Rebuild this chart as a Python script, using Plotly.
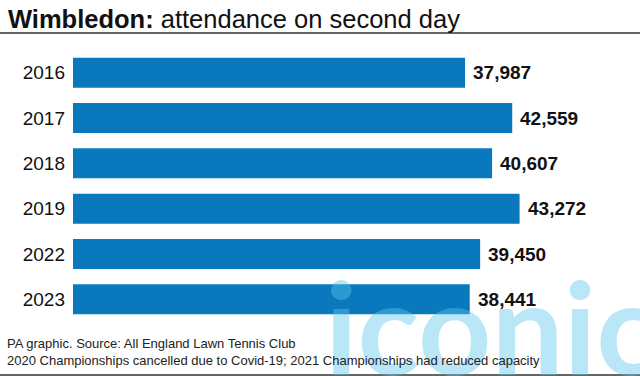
import plotly.graph_objects as go

years = ["2016", "2017", "2018", "2019", "2022", "2023"]
attendance = [37987, 42559, 40607, 43272, 39450, 38441]
labels = [f"{v:,}" for v in attendance]

BAR = "#0a78bd"
FONT = "Liberation Sans, Arial, sans-serif"

W, H = 640, 376
ML, MR, MT, MB = 73, 0, 50, 54
PW, PH = W - ML - MR, H - MT - MB

def px(xp):
    return (xp - ML) / PW

def py(yp):
    return (H - MB - yp) / PH

fig = go.Figure()
# watermark (behind)
fig.add_annotation(xref="paper", yref="paper", x=px(660), y=py(404),
                   xanchor="right", yanchor="bottom", showarrow=False,
                   text="<b>iconic</b>", opacity=0.42,
                   font=dict(family="Lato, Arial", size=128, color="#5cc8ee"))
fig.add_trace(go.Bar(
    x=attendance, y=years, orientation="h",
    marker=dict(color=BAR, line=dict(width=0)),
    hoverinfo="skip",
))
for i, (v, t) in enumerate(zip(attendance, labels)):
    fig.add_annotation(x=v, y=i, text=f"<b>{t}</b>", xref="x", yref="y",
                       showarrow=False, xanchor="left", xshift=6,
                       font=dict(family=FONT, size=19, color="#111"))

fig.update_layout(
    width=W, height=H,
    margin=dict(l=ML, r=MR, t=MT, b=MB, autoexpand=False),
    paper_bgcolor="white", plot_bgcolor="white",
    bargap=0.34,
    showlegend=False,
    font=dict(family=FONT, color="#111"),
    xaxis=dict(range=[0, 54940], visible=False, fixedrange=True, automargin=False),
    yaxis=dict(type="category", range=[len(years) - 0.5, -0.5], autorange=False,
               showgrid=False, zeroline=False, fixedrange=True, automargin=False,
               showline=False, ticks="", ticklabelstandoff=7,
               tickfont=dict(family=FONT, size=19, color="#111")),
)

# title
fig.add_annotation(xref="paper", yref="paper", x=px(6), y=py(3),
                   xanchor="left", yanchor="top", showarrow=False,
                   text="<b>Wimbledon:</b> attendance on second day",
                   font=dict(family=FONT, size=25.5, color="#111"))
# rules
fig.add_shape(type="line", xref="paper", yref="paper", x0=px(0), x1=px(640),
              y0=py(33), y1=py(33), line=dict(color="#333", width=1.5))
fig.add_shape(type="line", xref="paper", yref="paper", x0=px(0), x1=px(640),
              y0=py(375), y1=py(375), line=dict(color="#333", width=1.5))
# footer
fig.add_annotation(xref="paper", yref="paper", x=px(5), y=py(334),
                   xanchor="left", yanchor="top", showarrow=False, align="left",
                   text="PA graphic. Source: All England Lawn Tennis Club<br>2020 Championships cancelled due to Covid-19; 2021 Championships had reduced capacity",
                   font=dict(family=FONT, size=13, color="#222"))

fig.write_html("out.html", config={"displayModeBar": False},
               post_script="document.body.style.margin='0';document.body.style.overflow='hidden';")
